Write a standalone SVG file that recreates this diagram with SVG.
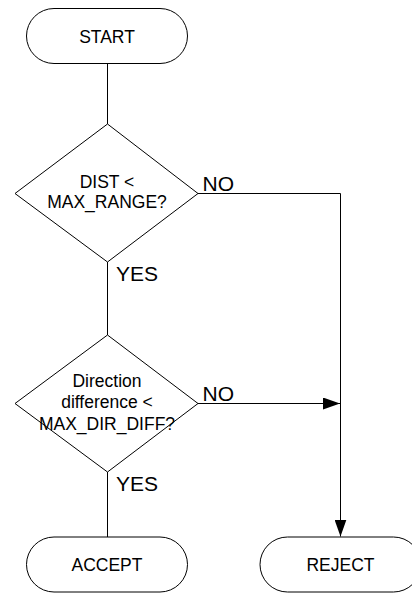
<svg xmlns="http://www.w3.org/2000/svg" width="412" height="593" viewBox="0 0 412 593">
<style>
.shape{fill:#fff;stroke:#000;stroke-width:1}
.t{font-family:"Liberation Sans",Arial,sans-serif;font-size:17.5px;fill:#000;text-anchor:middle}
.lbl{font-family:"Liberation Sans",Arial,sans-serif;font-size:21px;fill:#000}
.c{fill:none;stroke:#000;stroke-width:1}
</style>
<defs>
<marker id="ah" markerWidth="17" markerHeight="12" refX="17" refY="6" orient="auto" markerUnits="userSpaceOnUse">
<path d="M0,0 L17,6 L0,12 Z" fill="#000"/>
</marker>
</defs>
<rect width="412" height="593" fill="#fff"/>
<g id="connectors">
<path class="c" d="M107.5,64 V124"/>
<path class="c" d="M107.5,262 V335"/>
<path class="c" d="M107.5,472 V537"/>
<path class="c" d="M198,193.5 H340.5 V536.5" marker-end="url(#ah)"/>
<path class="c" d="M198,403.5 H340" marker-end="url(#ah)"/>
<text class="lbl" x="202.5" y="191">NO</text>
<text class="lbl" x="116" y="281">YES</text>
<text class="lbl" x="202.5" y="401">NO</text>
<text class="lbl" x="116" y="491">YES</text>
</g>
<g id="start">
<rect class="shape" x="26.5" y="8.5" width="161" height="55" rx="27.5" ry="27.5"/>
<text class="t" x="107" y="42.5">START</text>
</g>
<g id="dist">
<polygon class="shape" points="107.5,124 198,193.5 107.5,262 15,193.5"/>
<text class="t" x="107" y="187.5">DIST &lt;</text>
<text class="t" x="107" y="207.5">MAX_RANGE?</text>
</g>
<g id="dir">
<polygon class="shape" points="107.5,335 198,403.5 107.5,472 15,403.5"/>
<text class="t" x="107" y="386.5">Direction</text>
<text class="t" x="107" y="408">difference &lt;</text>
<text class="t" x="107" y="429.5">MAX_DIR_DIFF?</text>
</g>
<g id="accept">
<rect class="shape" x="26.5" y="537" width="161" height="55" rx="27.5" ry="27.5"/>
<text class="t" x="107" y="570.5">ACCEPT</text>
</g>
<g id="reject">
<rect class="shape" x="260" y="537" width="161" height="55" rx="27.5" ry="27.5"/>
<text class="t" x="340.5" y="570.5">REJECT</text>
</g>
</svg>
